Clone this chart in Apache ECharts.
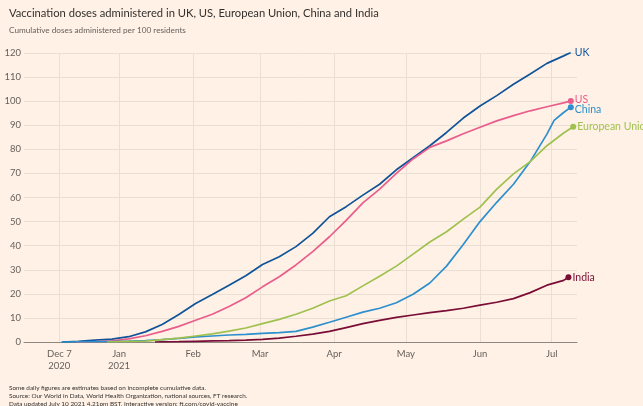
<!DOCTYPE html>
<html>
<head>
<meta charset="utf-8">
<script src="https://cdn.jsdelivr.net/npm/echarts@6/dist/echarts.min.js"></script>
<style>
  html, body { margin: 0; padding: 0; background: #fff1e5; }
  #chart { width: 643px; height: 406px; }
</style>
</head>
<body>
<div id="chart"></div>
<script>
// ---- Data (doses administered per 100 residents) ----
const uk = [
  ["2020-12-08", 0.0], ["2020-12-15", 0.3], ["2020-12-22", 0.8], ["2020-12-29", 1.2],
  ["2021-01-05", 2.2], ["2021-01-12", 4.2], ["2021-01-19", 7.3], ["2021-01-26", 11.4],
  ["2021-02-02", 16.0], ["2021-02-09", 19.7], ["2021-02-16", 23.6], ["2021-02-23", 27.5],
  ["2021-03-02", 32.2], ["2021-03-09", 35.4], ["2021-03-16", 39.6], ["2021-03-23", 45.1],
  ["2021-03-30", 52.0], ["2021-04-06", 56.2], ["2021-04-13", 61.0], ["2021-04-20", 65.5],
  ["2021-04-27", 71.5], ["2021-05-04", 76.5], ["2021-05-11", 81.5], ["2021-05-18", 87.0],
  ["2021-05-25", 93.0], ["2021-06-01", 98.0], ["2021-06-08", 102.3], ["2021-06-15", 107.0],
  ["2021-06-22", 111.3], ["2021-06-29", 115.7], ["2021-07-06", 118.8], ["2021-07-09", 120.2]
];
const us = [
  ["2020-12-14", 0.0], ["2020-12-22", 0.2], ["2020-12-29", 0.5],
  ["2021-01-05", 1.3], ["2021-01-12", 2.6], ["2021-01-19", 4.4], ["2021-01-26", 6.5],
  ["2021-02-02", 9.0], ["2021-02-09", 11.5], ["2021-02-16", 14.7], ["2021-02-23", 18.4],
  ["2021-03-02", 22.9], ["2021-03-09", 27.1], ["2021-03-16", 32.0], ["2021-03-23", 37.5],
  ["2021-03-30", 43.7], ["2021-04-06", 50.5], ["2021-04-13", 57.8], ["2021-04-20", 63.5],
  ["2021-04-27", 70.0], ["2021-05-04", 76.0], ["2021-05-11", 80.8], ["2021-05-18", 83.5],
  ["2021-05-25", 86.5], ["2021-06-01", 89.2], ["2021-06-08", 91.8], ["2021-06-15", 94.0],
  ["2021-06-22", 96.0], ["2021-06-29", 97.7], ["2021-07-06", 99.3], ["2021-07-09", 100.1]
];
const china = [
  ["2020-12-08", 0.0], ["2020-12-15", 0.1], ["2020-12-22", 0.15], ["2020-12-29", 0.2],
  ["2021-01-05", 0.35], ["2021-01-12", 0.6], ["2021-01-19", 1.0], ["2021-01-26", 1.5],
  ["2021-02-02", 2.1], ["2021-02-09", 2.5], ["2021-02-16", 2.9], ["2021-02-23", 3.2],
  ["2021-03-02", 3.6], ["2021-03-09", 3.9], ["2021-03-16", 4.4], ["2021-03-23", 6.2],
  ["2021-03-30", 8.2], ["2021-04-06", 10.3], ["2021-04-13", 12.4], ["2021-04-20", 14.0],
  ["2021-04-27", 16.3], ["2021-05-04", 19.8], ["2021-05-11", 24.5], ["2021-05-18", 31.5],
  ["2021-05-25", 40.5], ["2021-06-01", 50.0], ["2021-06-08", 58.0], ["2021-06-15", 65.5],
  ["2021-06-22", 74.9], ["2021-06-29", 86.3], ["2021-07-02", 92.0], ["2021-07-06", 95.3],
  ["2021-07-09", 97.5]
];
const eu = [
  ["2020-12-27", 0.0], ["2021-01-05", 0.3], ["2021-01-12", 0.4], ["2021-01-19", 1.0],
  ["2021-01-26", 1.6], ["2021-02-02", 2.5], ["2021-02-09", 3.4], ["2021-02-16", 4.5],
  ["2021-02-23", 5.8], ["2021-03-02", 7.6], ["2021-03-09", 9.4], ["2021-03-16", 11.5],
  ["2021-03-23", 14.0], ["2021-03-30", 17.0], ["2021-04-06", 19.2], ["2021-04-13", 23.3],
  ["2021-04-20", 27.3], ["2021-04-27", 31.5], ["2021-05-04", 36.5], ["2021-05-11", 41.5],
  ["2021-05-18", 45.8], ["2021-05-25", 51.0], ["2021-06-01", 56.0], ["2021-06-08", 63.5],
  ["2021-06-15", 69.8], ["2021-06-22", 74.9], ["2021-06-29", 81.5], ["2021-07-06", 86.8],
  ["2021-07-10", 89.4]
];
const india = [
  ["2021-01-16", 0.0], ["2021-01-19", 0.05], ["2021-01-26", 0.15], ["2021-02-02", 0.3],
  ["2021-02-09", 0.45], ["2021-02-16", 0.6], ["2021-02-23", 0.8], ["2021-03-02", 1.1],
  ["2021-03-09", 1.6], ["2021-03-16", 2.4], ["2021-03-23", 3.3], ["2021-03-30", 4.4],
  ["2021-04-06", 6.0], ["2021-04-13", 7.6], ["2021-04-20", 9.0], ["2021-04-27", 10.2],
  ["2021-05-04", 11.2], ["2021-05-11", 12.2], ["2021-05-18", 13.0], ["2021-05-25", 14.0],
  ["2021-06-01", 15.3], ["2021-06-08", 16.5], ["2021-06-15", 18.0], ["2021-06-22", 20.5],
  ["2021-06-29", 23.6], ["2021-07-06", 25.6], ["2021-07-08", 26.9]
];

const seriesNames = ["UK", "US", "China", "European Union", "India"];
const seriesData = [uk, us, china, eu, india];
const seriesColors = ["#0f5499", "#e95d8c", "#2d8fcd", "#9fc14f", "#7a0d35"];
const labelOffsets = [[0, 0], [0, -1], [0, 2], [0, 0], [0, 0]];

const tickDates = ["2020-12-07", "2021-01-01", "2021-02-01", "2021-03-01", "2021-04-01", "2021-05-01", "2021-06-01", "2021-07-01"];
const tickLabels = ["Dec 7\n2020", "Jan\n2021", "Feb", "Mar", "Apr", "May", "Jun", "Jul"];
const yTicks = [0, 120, 10]; // min, max, interval
const axisRange = ["2020-11-22 05:00", "2021-07-11 14:00"];

// ---- helpers ----
function toTs(s) {
  const [d, t] = s.split(" ");
  const [y, m, dd] = d.split("-").map(Number);
  let h = 0, mi = 0;
  if (t) { [h, mi] = t.split(":").map(Number); }
  return new Date(y, m - 1, dd, h, mi).getTime();
}

const tickTs = tickDates.map(toTs);
const gridColor = "#eadfd3";
const textGrey = "#66605c";
const font = "Lato, 'Noto Sans', sans-serif";

const series = seriesNames.map((name, i) => {
  const arr = seriesData[i];
  const n = arr.length;
  return {
    name: name,
    type: "line",
    data: arr.map(p => [toTs(p[0]), p[1]]),
    showSymbol: true,
    showAllSymbol: true,
    symbol: "circle",
    symbolSize: (v, params) => (params.dataIndex === n - 1 ? 6 : 0),
    itemStyle: { color: seriesColors[i] },
    lineStyle: { color: seriesColors[i], width: 1.7 },
    z: 3 + i,
    silent: true,
    animation: false,
    endLabel: {
      show: true,
      formatter: "{a}",
      color: seriesColors[i],
      fontFamily: font,
      fontSize: 10.5,
      distance: 4,
      offset: labelOffsets[i]
    }
  };
});

// vertical grid lines at tick dates
series.unshift({
  name: "grid",
  type: "line",
  data: [[tickTs[0], 0]],
  symbol: "none",
  lineStyle: { opacity: 0 },
  silent: true,
  animation: false,
  z: 1,
  markLine: {
    silent: true,
    z: 1,
    symbol: ["none", "none"],
    label: { show: false },
    lineStyle: { color: gridColor, type: "solid", width: 1 },
    animation: false,
    data: tickTs.map(t => ({ xAxis: t }))
  }
});

const chart = echarts.init(document.getElementById("chart"), null, { renderer: "canvas" });
chart.setOption({
  backgroundColor: "#fff1e5",
  animation: false,
  textStyle: { fontFamily: font },
  title: [
    {
      text: "Vaccination doses administered in UK, US, European Union, China and India",
      left: 4, top: 3,
      textStyle: { fontFamily: font, fontSize: 11.2, fontWeight: "normal", color: "#33302e" }
    },
    {
      text: "Cumulative doses administered per 100 residents",
      left: 4, top: 21,
      textStyle: { fontFamily: font, fontSize: 8.2, fontWeight: "normal", color: textGrey }
    },
    {
      text: "Some daily figures are estimates based on incomplete cumulative data.\nSource: Our World in Data, World Health Organization, national sources, FT research.\nData updated July 10 2021 4.21pm BST. Interactive version: ft.com/covid-vaccine",
      left: 4, top: 379,
      textStyle: { fontFamily: font, fontSize: 6.4, fontWeight: "normal", color: "#33302e", lineHeight: 8 }
    }
  ],
  grid: { left: 24, right: 66, top: 53, bottom: 64, containLabel: false },
  xAxis: {
    type: "value",
    min: toTs(axisRange[0]),
    max: toTs(axisRange[1]),
    axisLine: { show: true, lineStyle: { color: "#8f8881", width: 1 } },
    axisTick: { show: false },
    splitLine: { show: false },
    axisLabel: {
      customValues: tickTs,
      formatter: (v) => {
        const idx = tickTs.indexOf(v);
        return idx >= 0 ? tickLabels[idx] : "";
      },
      color: textGrey,
      fontFamily: font,
      fontSize: 9.5,
      lineHeight: 12,
      margin: 6,
      hideOverlap: false
    }
  },
  yAxis: {
    type: "value",
    min: yTicks[0],
    max: yTicks[1],
    interval: yTicks[2],
    axisLine: { show: false },
    axisTick: { show: false },
    splitLine: { show: true, lineStyle: { color: gridColor, width: 1 } },
    axisLabel: { color: textGrey, fontFamily: font, fontSize: 9.5, margin: 3 }
  },
  series: series
});
</script>
</body>
</html>
